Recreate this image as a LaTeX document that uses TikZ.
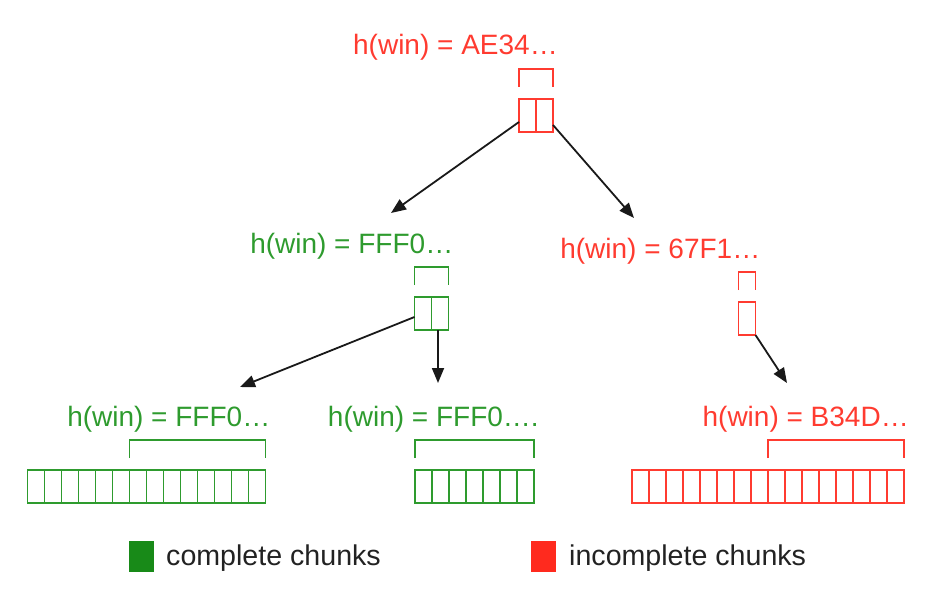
\documentclass[tikz,border=0pt]{standalone}
\usepackage{fontspec}
\setmainfont{Liberation Sans}
\usetikzlibrary{arrows.meta}
\definecolor{cgreen}{RGB}{46,155,46}
\definecolor{cred}{RGB}{255,59,48}
\definecolor{lgreen}{RGB}{24,138,24}
\definecolor{lred}{RGB}{255,42,30}
\definecolor{ctext}{RGB}{34,34,34}
\newcommand\chunkdivs[3]{%
  \foreach \i in {1,...,#2}{%
    \draw[#3, line width=1.5pt] ([xshift=\i*17pt]#1.north west) -- ([xshift=\i*17pt]#1.south west);}}
\newcommand\chunkbracket[3]{%
  \draw[#3, line width=1.5pt] ([xshift=#2,yshift=12pt]#1.north west) -- ([xshift=#2,yshift=30pt]#1.north west)
     -- ([yshift=30pt]#1.north east) -- ([yshift=12pt]#1.north east);}
\begin{document}
\begin{tikzpicture}[x=1pt,y=-1pt,
  chunkbox/.style={draw, line width=1.5pt, minimum height=33pt, inner sep=0pt, outer sep=0pt},
  lbl/.style={anchor=base east, inner sep=0pt, font=\fontsize{28}{34}\selectfont},
  legtxt/.style={anchor=base west, inner sep=0pt, text=ctext, font=\fontsize{28.6}{34}\selectfont},
  arr/.style={draw=black!90, line width=1.8pt, -{Triangle[length=15pt,width=12pt]}}]
\useasboundingbox (0,0) rectangle (946,610);

% chunk boxes
\node[chunkbox, draw=cred, minimum width=34pt] (top) at (536,115.5) {};
\node[chunkbox, draw=cgreen, minimum width=34pt] (gmid) at (431.5,313.5) {};
\node[chunkbox, draw=cred, minimum width=17pt] (rsmall) at (747,318.5) {};
\node[chunkbox, draw=cgreen, minimum width=238pt] (gbl) at (146.5,486.5) {};
\node[chunkbox, draw=cgreen, minimum width=119pt] (gbm) at (474.5,486.5) {};
\node[chunkbox, draw=cred, minimum width=272pt] (rb) at (768,486.5) {};

\chunkdivs{top}{1}{cred}
\chunkdivs{gmid}{1}{cgreen}
\chunkdivs{gbl}{13}{cgreen}
\chunkdivs{gbm}{6}{cgreen}
\chunkdivs{rb}{15}{cred}

% brackets
\chunkbracket{top}{0pt}{cred}
\chunkbracket{gmid}{0pt}{cgreen}
\chunkbracket{rsmall}{0pt}{cred}
\chunkbracket{gbl}{102pt}{cgreen}
\chunkbracket{gbm}{0pt}{cgreen}
\chunkbracket{rb}{136pt}{cred}

% labels
\node[lbl, text=cred] (topL) at ([xshift=5pt,yshift=44pt]top.north east) {h(win) = AE34…};
\node[lbl, text=cgreen] (gmidL) at ([xshift=5pt,yshift=44pt]gmid.north east) {h(win) = FFF0…};
\node[lbl, text=cred] (rsmallL) at ([xshift=5pt,yshift=44pt]rsmall.north east) {h(win) = 67F1…};
\node[lbl, text=cgreen] (gblL) at ([xshift=5pt,yshift=44pt]gbl.north east) {h(win) = FFF0…};
\node[lbl, text=cgreen] (gbmL) at ([xshift=5pt,yshift=44pt]gbm.north east) {h(win) = FFF0….};
\node[lbl, text=cred] (rbL) at ([xshift=5pt,yshift=44pt]rb.north east) {h(win) = B34D…};

% arrow targets
\coordinate (t1) at (391,213);
\coordinate (t2) at (634,218);
\coordinate (t3) at (240,387);
\coordinate (t4) at (438,383);
\coordinate (t5) at (787,383);

\draw[arr] ([yshift=-6.5pt]top.west) -- (t1);
\draw[arr] ([yshift=-9.5pt]top.east) -- (t2);
\draw[arr] ([yshift=-3.5pt]gmid.west) -- (t3);
\draw[arr] ([xshift=6.5pt]gmid.south) -- (t4);
\draw[arr] (rsmall.south east) -- (t5);

% legend
\node[fill=lgreen, minimum width=25pt, minimum height=31pt, inner sep=0pt] (gsq) at (141.5,556.5) {};
\node[fill=lred, minimum width=25pt, minimum height=31pt, inner sep=0pt] (rsq) at (543,556.5) {};
\node[legtxt] (gtxt) at (166,565) {complete chunks};
\node[legtxt] (rtxt) at (569,565) {incomplete chunks};
\end{tikzpicture}
\end{document}
